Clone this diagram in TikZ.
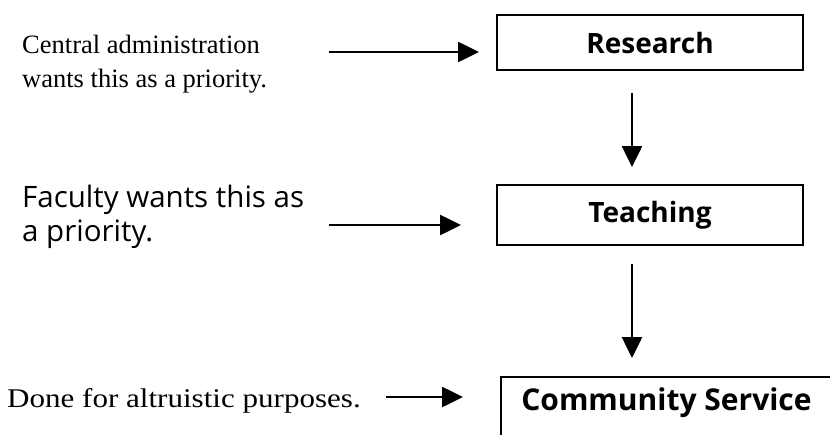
\documentclass[tikz,border=0pt]{standalone}
\usepackage{fontspec}
\setmainfont{Liberation Serif}
\newfontfamily\wideserif[FakeStretch=1.15]{Liberation Serif}
\newfontfamily\humsans{Open Sans}
\usetikzlibrary{arrows.meta}
\begin{document}
\begin{tikzpicture}[x=1pt, y=-1pt,
  note/.style={inner sep=0pt, align=left, text=black},
  stage/.style={draw, line width=2pt, inner sep=0pt, minimum width=306pt,
    font=\humsans\bfseries\fontsize{28}{32}\selectfont},
  flow/.style={line width=2.6pt,
    -{Triangle[length=21pt, width=20pt]}}]
  \useasboundingbox (0,0) rectangle (830,434);
  \clip (0,0) rectangle (830,434);

  % stages
  \node[stage, minimum height=55pt] (research) at (650,42.5) {Research};
  \node[stage, minimum height=60pt] (teaching) at (650,215) {Teaching};
  \node[stage, anchor=base west, minimum width=331pt,
        text height=33pt, text depth=50pt,
        font=\humsans\bfseries\fontsize{30}{32}\selectfont] (service) at (500,410) {Community Service};

  % motivations (anchored at the baseline of their last line)
  \node[note, anchor=base west, font=\fontsize{26.5}{34}\selectfont] (admin) at (22,87)
    {Central administration\\wants this as a priority.};
  \node[note, anchor=base west, font=\humsans\fontsize{29.5}{34}\selectfont] (faculty) at (22,241)
    {Faculty wants this as\\a priority.};
  \node[note, anchor=base west, font=\wideserif\fontsize{27}{33}\selectfont] (altru) at (7,407)
    {Done for altruistic purposes.};

  % arrow anchors
  \coordinate (a1) at (329,52);
  \coordinate (a2) at (329,225);
  \coordinate (a3) at (386,397);
  \coordinate (spine) at (632,0);

  \draw[flow, shorten >=17pt] (a1) -- (a1 -| research.west);
  \draw[flow, shorten >=35pt] (a2) -- (a2 -| teaching.west);
  \draw[flow, shorten >=37pt] (a3) -- (a3 -| service.west);

  \draw[flow, shorten <=22pt, shorten >=17pt] (spine |- research.south) -- (spine |- teaching.north);
  \draw[flow, shorten <=18pt, shorten >=18pt] (spine |- teaching.south) -- (spine |- service.north);
\end{tikzpicture}
\end{document}
